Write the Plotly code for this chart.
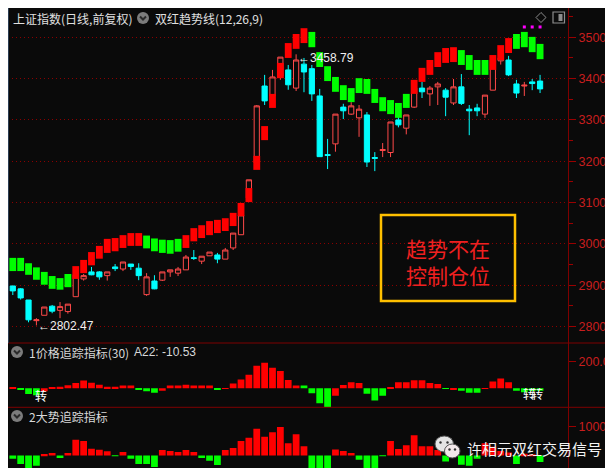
import plotly.graph_objects as go

# 上证指数 日线 68 根K线 (index 0..67)
opens = [2898, 2891, 2864, 2814, 2827, 2849, 2839, 2836, 2872, 2915,
         2932, 2932, 2923, 2944, 2939, 2951, 2941, 2877, 2910, 2912,
         2932, 2929, 2937, 2966, 2958, 2971, 2973, 2963, 2990, 3022,
         3111, 3196, 3382, 3358, 3406, 3421, 3377, 3435, 3424, 3358,
         3216, 3242, 3331, 3314, 3305, 3312, 3209, 3226, 3221, 3300,
         3280, 3331, 3377, 3363, 3380, 3372, 3341, 3380, 3326, 3329,
         3314, 3372, 3443, 3445, 3387, 3382, 3392, 3394]
highs = [2898, 2893, 2864, 2820, 2847, 2852, 2859, 2854, 2925, 2927,
         2944, 2934, 2932, 2951, 2956, 2951, 2953, 2929, 2924, 2932,
         2937, 2944, 2973, 2985, 2970, 2980, 2978, 2990, 3026, 3070,
         3155, 3336, 3409, 3421, 3452, 3433, 3458.79, 3450, 3433, 3375,
         3254, 3314, 3339, 3343, 3336, 3319, 3222, 3244, 3295, 3308,
         3312, 3377, 3392, 3382, 3392, 3377, 3399, 3411, 3336, 3339,
         3360, 3445, 3450, 3455, 3397, 3392, 3399, 3409]
lows = [2876, 2865, 2810, 2802.47, 2827, 2832, 2820, 2831, 2872, 2911,
        2924, 2913, 2911, 2934, 2934, 2937, 2912, 2874, 2890, 2910,
        2920, 2922, 2937, 2961, 2951, 2971, 2953, 2963, 2985, 3022,
        3111, 3196, 3336, 3358, 3397, 3373, 3370, 3367, 3346, 3211,
        3181, 3223, 3302, 3312, 3259, 3186, 3176, 3210, 3210, 3282,
        3265, 3329, 3353, 3334, 3336, 3309, 3336, 3336, 3263, 3309,
        3305, 3372, 3434, 3406, 3353, 3358, 3372, 3365]
closes = [2886, 2869, 2816, 2816, 2847, 2837, 2848, 2854, 2925, 2923,
          2925, 2920, 2932, 2940, 2956, 2945, 2923, 2920, 2891, 2932,
          2937, 2939, 2968, 2965, 2970, 2980, 2963, 2985, 3026, 3070,
          3155, 3334, 3346, 3404, 3452, 3385, 3445, 3416, 3363, 3211,
          3214, 3314, 3322, 3334, 3326, 3198, 3207, 3228, 3295, 3288,
          3312, 3377, 3368, 3377, 3387, 3355, 3380, 3340, 3322, 3322,
          3360, 3445, 3450, 3409, 3365, 3384, 3388, 3375]

# 双红趋势线 (上沿 / 下沿, R=红 G=绿)
trend_hi = [2966, 2966, 2953, 2943, 2932, 2922, 2917, 2927, 2946, 2961,
            2980, 2995, 3012, 3014, 3021, 3026, 3026, 3020, 3013, 3010,
            3009, 3012, 3021, 3038, 3045, 3055, 3058, 3062, 3075, 3099,
            3135, 3213, 3285, 3363, 3438, 3486, 3508, 3522, 3513, 3464,
            3430, 3404, 3384, 3377, 3401, 3399, 3375, 3355, 3348, 3341,
            3363, 3397, 3426, 3445, 3464, 3474, 3476, 3469, 3457, 3445,
            3445, 3457, 3481, 3498, 3508, 3513, 3501, 3484]
trend_lo = [2934, 2934, 2925, 2913, 2901, 2891, 2889, 2895, 2915, 2929,
            2948, 2964, 2978, 2982, 2990, 2995, 2995, 2989, 2982, 2978,
            2976, 2981, 2990, 3006, 3014, 3021, 3026, 3031, 3043, 3067,
            3101, 3179, 3251, 3329, 3401, 3450, 3472, 3486, 3476, 3428,
            3394, 3368, 3348, 3343, 3365, 3363, 3341, 3321, 3314, 3305,
            3329, 3363, 3392, 3409, 3428, 3438, 3440, 3433, 3421, 3409,
            3409, 3421, 3445, 3462, 3472, 3476, 3464, 3447]
trend_dir = "GGGGGGGG" "RRRRRRRRR" "GGGGG" "RRRRRRRRRRRRRRRR" "GGGGGGGGGGGGG" "RRRRRR" "GGGG" "RRR" "GGGG"

# 1价格追踪指标(30)
p1_vals = [10, -12, -42, -52, -22, 7, 12, 22, 40, 57,
           42, 27, 12, 12, 20, 20, -10, -22, -32, -18,
           20, 20, 27, 20, 20, 20, -6, -3, 35, 65,
           100, 168, 190, 153, 128, 62, 20, 20, -37, -110,
           -140, -55, 25, 45, 40, -40, -90, -55, 8, 45,
           45, 60, 60, 40, 32, -5, -10, -18, -32, -32,
           -3, 50, 72, 45, -18, -30, -20, -18]
p1_dir = ("R" "GGG" "RRRRRRRRRRRR" "GGG" "RRRRRRR" "G" "RRRRRRRRRR" "GGGG" "RRRR"
          "GGG" "RRRRRRR" "G" "R" "GGG" "RRRR" "GGGG")

# 2大势追踪指标
p2_vals = [-115, -300, -530, -355, 45, 80, -90, 80, 540, 495,
           230, 195, 140, -20, 115, -115, -300, -300, -400, 185,
           150, 115, 185, 115, -90, -185, -335, 185, 255, 495,
           610, 920, 645, 805, 980, 425, 735, 320, -460, -610,
           -440, 205, 150, 80, -150, -610, -460, -15, 495, 220,
           355, 700, 320, 320, 185, -210, 100, -320, -355, -115,
           420, 300, 150, 100, -300, 60, 40, -230]

sig_x = [65, 66, 67]
sig_y = [3525, 3525, 3525]

idx = list(range(len(opens)))

W, H = 613, 468
XD = 560 / W
XR = [-0.61, 70.55]
BG = "#0a0a0a"
RED = "#ff0000"
GREEN = "#00ff00"
AXC = "#9a0000"
LBL = "#c81e1e"
SEP = "#7d0000"


def px(x):
    return x / W


def py(y):
    return 1 - y / H


fig = go.Figure()

fig.add_trace(go.Candlestick(
    x=idx, open=opens, high=highs, low=lows, close=closes,
    increasing=dict(line=dict(color="#ff4a4a", width=1), fillcolor=BG),
    decreasing=dict(line=dict(color="#00ffff", width=1), fillcolor="#00ffff"),
    xaxis="x", yaxis="y", hoverinfo="skip"))

fig.add_trace(go.Bar(
    x=idx, y=[h - l for h, l in zip(trend_hi, trend_lo)], base=trend_lo,
    width=0.87, marker=dict(color=[RED if c == "R" else GREEN for c in trend_dir], line=dict(width=0)),
    xaxis="x", yaxis="y4", hoverinfo="skip"))

fig.add_trace(go.Scatter(
    x=sig_x, y=sig_y, mode="markers", xaxis="x", yaxis="y4",
    marker=dict(symbol="square", size=3, color="#ff00ff", line=dict(width=0))))

fig.add_trace(go.Bar(
    x=idx, y=p1_vals, width=0.86,
    marker=dict(color=[RED if c == "R" else GREEN for c in p1_dir], line=dict(width=0)),
    xaxis="x2", yaxis="y2", hoverinfo="skip"))

fig.add_trace(go.Bar(
    x=idx, y=p2_vals, width=0.86,
    marker=dict(color=[RED if v >= 0 else GREEN for v in p2_vals], line=dict(width=0)),
    xaxis="x3", yaxis="y3", hoverinfo="skip"))

tickfont = dict(family="Liberation Sans, Arial", size=12.5, color=LBL)
yax = dict(side="right", ticks="outside", ticklen=7, tickwidth=1, tickcolor=AXC,
           tickfont=tickfont, zeroline=False, showline=False, ticklabelstandoff=0)

fig.update_layout(
    width=W, height=H, margin=dict(l=0, r=0, t=0, b=0),
    paper_bgcolor=BG, plot_bgcolor=BG, showlegend=False,
    boxgap=0.34, boxgroupgap=0, barmode="overlay",
    xaxis=dict(domain=[0, XD], range=XR, visible=False, anchor="y", rangeslider=dict(visible=False)),
    xaxis2=dict(domain=[0, XD], range=XR, visible=False, anchor="y2"),
    xaxis3=dict(domain=[0, XD], range=XR, visible=False, anchor="y3"),
    yaxis=dict(yax, domain=[py(335), 1], range=[2759.9, 3570.9], anchor="x",
               dtick=100, tick0=0, showgrid=True, gridcolor="#8b0000", gridwidth=1,
               griddash="1px,3px",
               minor=dict(dtick=50, tick0=0, ticks="outside", ticklen=4, tickcolor=AXC, showgrid=False)),
    yaxis4=dict(range=[2759.9, 3570.9], overlaying="y", anchor="x", visible=False),
    yaxis2=dict(yax, domain=[py(399.3), py(335)], range=[-140.7, 335.6], anchor="x2",
                tickvals=[200], tickformat=".1f", showgrid=False),
    yaxis3=dict(yax, domain=[py(465.7), py(399.3)], range=[-634, 1666], anchor="x3",
                tickvals=[1000], showgrid=False),
)

shapes = []
for yy in (335, 399.3, 465.7):
    shapes.append(dict(type="line", xref="paper", yref="paper", x0=0, x1=1, y0=py(yy), y1=py(yy),
                       line=dict(color=SEP, width=1)))
shapes.append(dict(type="line", xref="paper", yref="paper", x0=px(560.5), x1=px(560.5), y0=0, y1=1,
                   line=dict(color=SEP, width=1)))
shapes.append(dict(type="line", xref="paper", yref="paper", x0=px(0.5), x1=px(0.5), y0=py(335), y1=1,
                   line=dict(color="#2b3d52", width=1)))

# 说明框
shapes.append(dict(type="rect", xref="paper", yref="paper",
                   x0=px(373), x1=px(507), y0=py(293), y1=py(207),
                   line=dict(color="#ffc000", width=2.5)))

# 标题前的小圆形按钮
for cx, cy in ((135, 10), (9, 344), (9, 408)):
    shapes.append(dict(type="circle", xref="paper", yref="paper",
                       x0=px(cx - 6), x1=px(cx + 6), y0=py(cy + 6), y1=py(cy - 6),
                       fillcolor="#7c7c7c", line=dict(width=0)))
    shapes.append(dict(type="path", xref="paper", yref="paper",
                       path="M %f %f L %f %f L %f %f" % (px(cx - 3), py(cy - 1.5), px(cx), py(cy + 1.5),
                                                          px(cx + 3), py(cy - 1.5)),
                       line=dict(color="#2a2a2a", width=2)))

# 右上角图标
dcx, dcy = 533, 9.5
shapes.append(dict(type="path", xref="paper", yref="paper",
                   path="M %f %f L %f %f L %f %f L %f %f Z" % (px(dcx), py(dcy - 5), px(dcx + 5), py(dcy),
                                                                px(dcx), py(dcy + 5), px(dcx - 5), py(dcy)),
                   line=dict(color="#8c8c8c", width=1)))
shapes.append(dict(type="rect", xref="paper", yref="paper", x0=px(545), x1=px(556.5), y0=py(15), y1=py(4),
                   line=dict(color="#8c8c8c", width=1.2)))
shapes.append(dict(type="rect", xref="paper", yref="paper", x0=px(550.5), x1=px(554.5), y0=py(13), y1=py(6),
                   fillcolor="#8c8c8c", line=dict(width=0)))

# 水印图标
shapes.append(dict(type="circle", xref="paper", yref="paper", x0=px(427), x1=px(445.5), y0=py(444), y1=py(428),
                   fillcolor="#e4e4e4", line=dict(color="#555555", width=1)))
shapes.append(dict(type="circle", xref="paper", yref="paper", x0=px(436.5), x1=px(452), y0=py(450), y1=py(436),
                   fillcolor="#f2e8ea", line=dict(color="#555555", width=1)))
for ex, ey in ((432.5, 434.5), (439.5, 434.5), (441.5, 441.5), (447, 441.5)):
    shapes.append(dict(type="circle", xref="paper", yref="paper", x0=px(ex - 1.2), x1=px(ex + 1.2),
                       y0=py(ey + 1.2), y1=py(ey - 1.2), fillcolor="#333333", line=dict(width=0)))

fig.update_layout(shapes=shapes)

CJK = "Noto Sans CJK SC"
LAT = "Liberation Sans, Arial"


def note(text, x, y, size=12, color="#e0e0e0", family=CJK, xanchor="left", **kw):
    fig.add_annotation(text=text, x=px(x), y=py(y), xref="paper", yref="paper",
                       xanchor=xanchor, yanchor="middle", showarrow=False,
                       font=dict(family=family, size=size, color=color), **kw)


note("上证指数(日线,前复权)", 3, 10)
note("双红趋势线(12,26,9)", 145, 10)
note("1价格追踪指标(30)", 19, 344, color="#d8d8d8")
note("A22: -10.53", 124, 344, color="#d8d8d8", family=LAT)
note("2大势追踪指标", 19, 408, color="#d8d8d8")
note("趋势不在<br>控制仓位", 440, 253.5, size=21, color="#f02020", xanchor="center")
note("许相元双红交易信号", 526, 440, size=15, color="#f4f4f4", xanchor="center")

fig.add_annotation(text="←2802.47", x=3, y=2802.47, xref="x", yref="y", xanchor="left", yanchor="middle",
                   showarrow=False, yshift=-1, font=dict(family=LAT, size=12, color="#f0f0f0"))
fig.add_annotation(text="←3458.79", x=36, y=3458.79, xref="x", yref="y", xanchor="left", yanchor="middle",
                   showarrow=False, yshift=-4, font=dict(family=LAT, size=12, color="#f0f0f0"))

for tx, ty in ((3.6, -50), (65.6, -35), (66.6, -35)):
    fig.add_annotation(text="转", x=tx, y=ty, xref="x2", yref="y2", showarrow=False,
                       font=dict(family=CJK, size=12, color="#ffffff"))

fig.write_html("out.html")
